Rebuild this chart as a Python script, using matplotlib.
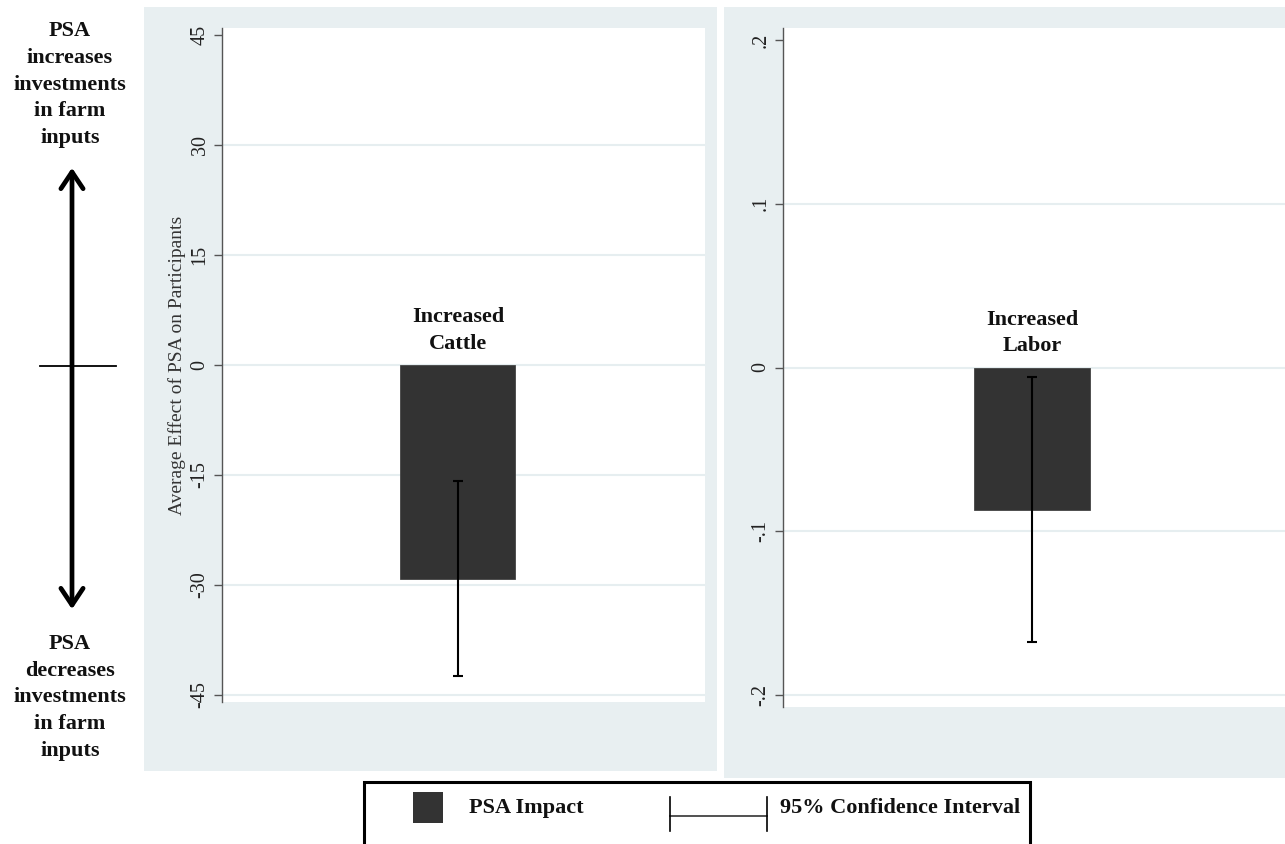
import matplotlib
matplotlib.use("Agg")
import matplotlib.pyplot as plt
from matplotlib.patches import Rectangle, FancyArrowPatch
from matplotlib.lines import Line2D

plt.rcParams['font.family'] = ['Liberation Serif', 'DejaVu Serif']

# ---- data ----
categories = ["Increased\nCattle", "Increased\nLabor"]
effects = [-29.2, -0.087]
ci_low = [-42.5, -0.1676]
ci_high = [-15.8, -0.0058]
yticks_left = [-45, -30, -15, 0, 15, 30, 45]
yticklabels_left = ["-45", "-30", "-15", "0", "15", "30", "45"]
yticks_right = [-0.2, -0.1, 0.0, 0.1, 0.2]
yticklabels_right = ["-.2", "-.1", "0", ".1", ".2"]
ylabel = "Average Effect of PSA on Participants"
legend_labels = ["PSA Impact", "95% Confidence Interval"]
side_top = "PSA\nincreases\ninvestments\nin farm\ninputs"
side_bottom = "PSA\ndecreases\ninvestments\nin farm\ninputs"

W, H = 1285, 844
fig = plt.figure(figsize=(W / 100, H / 100), dpi=100)
fig.patch.set_facecolor("white")

BG = "#e8eff1"
GRID = "#e6eef0"
BAR = "#333333"

def fx(x):
    return x / W

def fy(y):
    return 1 - y / H

# panel backgrounds
fig.patches.append(Rectangle((fx(144), fy(771)), fx(717) - fx(144), fy(7) - fy(771),
                             transform=fig.transFigure, facecolor=BG, edgecolor="none", zorder=-2))
fig.patches.append(Rectangle((fx(724), fy(778)), fx(1290) - fx(724), fy(7) - fy(778),
                             transform=fig.transFigure, facecolor=BG, edgecolor="none", zorder=-2))

def make_axes(x0, x1, y_top, y_bot):
    return fig.add_axes([fx(x0), fy(y_bot), fx(x1) - fx(x0), fy(y_top) - fy(y_bot)])

axL = make_axes(222, 705, 28, 702)
axR = make_axes(783, 1285, 28, 707)

specs = [
    (axL, (-46, 46), yticks_left, yticklabels_left, (-0.977, 1.023), 0.476, 0),
    (axR, (-0.2073, 0.2073), yticks_right, yticklabels_right, (-0.992, 1.008), 0.466, 1),
]

for ax, ylim, ticks, tlabels, xlim, bw, i in specs:
    ax.set_facecolor("white")
    ax.set_ylim(*ylim)
    ax.set_xlim(*xlim)
    ax.set_yticks(ticks)
    ax.set_yticklabels(tlabels)
    ax.set_xticks([])
    for s in ["top", "right", "bottom"]:
        ax.spines[s].set_visible(False)
    ax.spines["left"].set_color("#555555")
    ax.spines["left"].set_linewidth(1.0)
    ax.tick_params(axis="y", length=6, width=1, color="#555555", labelsize=14.5,
                   labelrotation=90, labelcolor="#222222", pad=3)
    for lab in ax.get_yticklabels():
        lab.set_va("center")
    for t in ticks[:-1]:
        ax.axhline(t, color=GRID, lw=1.5, zorder=0)
    ax.bar([0], [effects[i]], width=bw, color=BAR, edgecolor="#444444", lw=0.6, zorder=2)
    ax.errorbar([0], [effects[i]],
                yerr=[[effects[i] - ci_low[i]], [ci_high[i] - effects[i]]],
                fmt="none", ecolor="black", elinewidth=1.5, capsize=3.6, capthick=1.5, zorder=3)
    ax.annotate(categories[i], xy=(0, 0), xytext=(0, 8), textcoords="offset points",
                ha="center", va="bottom", fontsize=16, fontweight="bold",
                linespacing=1.45, color="#111111")

axL.set_ylabel(ylabel, fontsize=14, color="#333333")
axL.yaxis.set_label_coords(-0.075, 0.5)

# side annotation
fig.text(fx(70), fy(21), side_top, ha="center", va="top", fontsize=16, fontweight="bold",
         linespacing=1.45, color="#111111")
fig.text(fx(70), fy(634), side_bottom, ha="center", va="top", fontsize=16, fontweight="bold",
         linespacing=1.45, color="#111111")
fig.patches.append(FancyArrowPatch(
    (fx(72), fy(612)), (fx(72), fy(165)), transform=fig.transFigure,
    arrowstyle="<->,head_length=12,head_width=8", lw=3.4, color="black", zorder=5))
fig.lines.append(Line2D([fx(40), fx(116)], [fy(366), fy(366)], transform=fig.transFigure,
                        color="black", lw=1.3))

# legend box
fig.patches.append(Rectangle((fx(364), fy(850)), fx(1030) - fx(364), fy(782) - fy(850),
                             transform=fig.transFigure, facecolor="white", edgecolor="black",
                             lw=2.2, zorder=4, clip_on=False))
fig.patches.append(Rectangle((fx(413), fy(823)), fx(443) - fx(413), fy(792) - fy(823),
                             transform=fig.transFigure, facecolor=BAR, edgecolor="none", zorder=5))
fig.text(fx(469), fy(808), legend_labels[0], ha="left", va="center", fontsize=16,
         fontweight="bold", color="#111111", zorder=6)
fig.lines.append(Line2D([fx(670), fx(767)], [fy(816), fy(816)], transform=fig.transFigure,
                        color="#333333", lw=1.2, zorder=6))
for xx in (670, 767):
    fig.lines.append(Line2D([fx(xx), fx(xx)], [fy(797), fy(831)], transform=fig.transFigure,
                            color="black", lw=1.2, zorder=6))
fig.text(fx(780), fy(808), legend_labels[1], ha="left", va="center", fontsize=16,
         fontweight="bold", color="#111111", zorder=6)

fig.savefig("out.png", dpi=100, facecolor="white")
